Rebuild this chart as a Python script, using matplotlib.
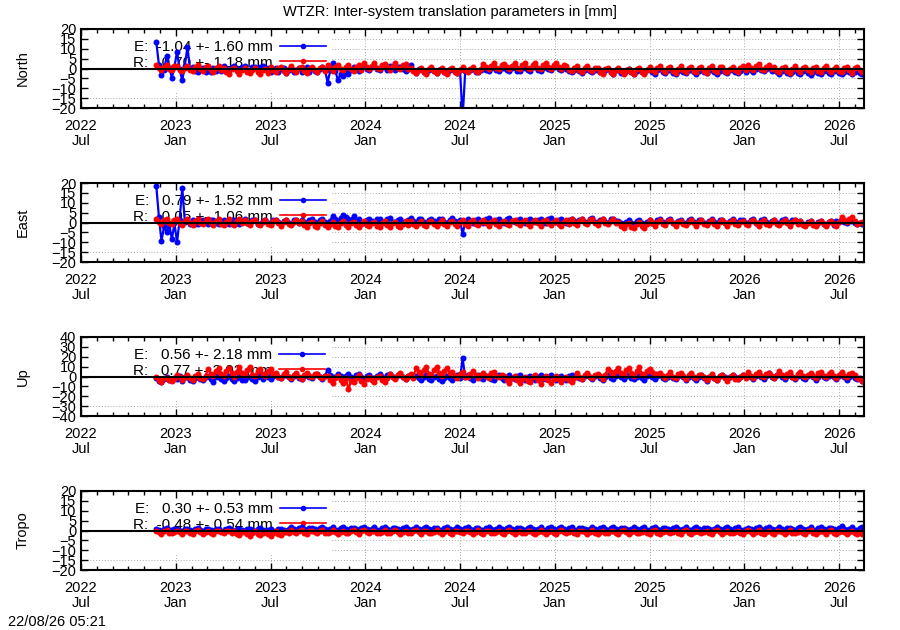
import numpy as np
import pandas as pd
import matplotlib
matplotlib.use("Agg")
import matplotlib.pyplot as plt
import matplotlib.dates as mdates
from matplotlib.patches import Rectangle

plt.rcParams['font.family'] = ['Liberation Sans', 'DejaVu Sans']
plt.rcParams['font.size'] = 10.5

# translation parameters in mm, one value read every 5 days from 2022-11-26
# (each row below = 50 days)
north_e = [13.5, 2.0, -3.5, -1.0, 6.5, 0.5, -4.6, 1.0, 8.6, -0.5,
           -6.0, 1.5, 11.0, -0.5, 0.8, -1.5, -2.0, 0.2, 0.5, -1.8,
           0.7, -1.9, 0.3, -1.2, 0.9, -1.5, 1.2, -0.5, -1.0, 0.8,
           1.4, -0.3, -0.8, 1.0, 1.3, -0.6, -1.1, 0.7, 1.0, -0.9,
           0.6, 1.2, -0.5, 0.4, -2.0, -0.6, 0.2, -1.8, -0.4, 0.5,
           -2.1, -0.8, 0.3, -1.9, -1.0, 0.4, -2.0, -0.5, 0.6, -1.7,
           0.4, -1.2, -2.0, -0.5, 0.6, -0.8, -7.2, -1.0, 2.6, -1.5,
           -5.8, -3.0, -4.0, -2.0, -3.0, -1.0, 0.8, -0.5, -1.2, 0.6,
           1.2, -0.4, -0.8, 1.0, 1.4, -0.2, -0.6, 1.1, 0.9, -0.9,
           1.3, 0.2, -0.7, 1.0, 1.0, -0.5, -1.5, 0.0, 1.8, -1.0,
           -2.2, -0.5, -0.2, -1.8, -2.4, -0.6, 0.1, -1.5, -2.3, -0.8,
           -0.1, -1.6, -2.5, -0.9, 0.0, -1.4, -2.2, -1.0, -25.0, -1.2,
           -1.5, -0.8, -0.5, -1.6, -2.0, -0.6, 0.5, -0.9, -1.2, 0.4,
           0.6, -1.0, -1.4, 0.2, 0.4, -0.8, -1.3, 0.1, 0.7, -1.2,
           -1.5, 0.3, 0.5, -1.0, -1.2, 0.6, 0.8, -0.7, -1.1, 0.4,
           1.0, -0.5, -0.9, 0.8, 1.2, -0.3, -0.8, 0.6, -0.3, -1.4,
           -2.0, -0.6, -0.2, -1.5, -2.2, -0.8, -0.4, -1.3, -1.9, -0.7,
           -0.6, -2.0, -2.5, -0.8, -0.5, -1.9, -2.6, -1.0, -0.7, -2.2,
           -2.4, -1.1, -0.4, -1.8, -2.7, -1.2, -0.6, -2.0, -2.5, -0.9,
           -0.5, -1.7, -2.6, -1.0, -0.4, -1.9, -2.5, -0.8, -0.7, -2.1,
           -2.8, -1.2, -0.5, -1.6, -2.4, -1.0, -0.6, -1.8, -2.7, -1.1,
           -0.4, -1.9, -2.5, -0.9, -0.6, -1.7, -2.6, -1.2, -0.5, -2.0,
           -2.4, -1.0, -0.7, -1.8, -2.5, -1.1, -0.5, -1.6, 0.3, -0.9,
           -1.6, -0.4, 0.5, -0.8, -1.5, -0.2, 0.2, -1.2, -0.8, -2.0,
           -2.8, -1.5, -0.7, -2.2, -3.0, -1.6, -0.9, -2.4, -2.9, -1.3,
           -0.6, -2.1, -3.1, -1.7, -0.8, -2.3, -2.7, -1.4, -0.7, -2.2,
           -2.9, -1.5, -0.9, -2.4, -2.8, -1.6, -0.6, -2.0, -3.0, -1.8,
           -0.8, -2.1, -2.6]
north_r = [1.8, 0.2, -0.8, 1.0, 2.0, -0.3, -0.6, 1.2, 1.4, -1.0,
           -1.5, 0.4, 1.2, -0.8, -1.3, 0.6, 1.6, -0.5, -1.2, 0.9,
           1.1, -0.7, -1.6, 0.5, 1.3, -0.9, 0.3, -1.8, -2.6, -0.4,
           0.2, -1.5, -2.8, -0.9, 0.1, -1.7, -2.5, -0.6, 0.4, -1.9,
           -2.9, -1.0, 0.0, -2.2, 1.0, -0.8, -2.0, 0.3, 0.9, -1.2,
           -2.1, -0.3, 1.1, -1.0, -1.9, 0.2, 0.8, -1.4, -2.2, -0.2,
           1.0, -0.6, -1.8, 0.4, 0.9, -1.1, 1.8, 0.2, -1.2, 0.9,
           1.7, -0.5, -1.0, 0.8, 1.9, -0.2, -1.3, 0.6, 1.6, -0.7,
           2.6, 0.8, -0.5, 1.5, 2.8, 0.3, -0.4, 1.9, 2.5, 0.6,
           -0.6, 1.2, 2.7, 0.5, -0.3, 1.8, 2.4, -0.2, 0.5, -1.4,
           -2.5, -0.6, 0.4, -1.7, -2.6, -0.3, 0.6, -1.5, -2.4, -0.8,
           0.3, -1.9, -2.7, -0.4, 0.5, -1.6, -2.3, -0.7, 1.0, -0.9,
           -2.0, -0.4, 0.9, -1.2, -1.9, 0.0, 2.4, 0.6, -0.4, 1.5,
           2.6, 0.3, -0.5, 1.8, 2.5, 0.7, -0.3, 1.4, 2.7, 0.2,
           -0.4, 1.6, 2.6, 0.4, -0.5, 1.9, 2.8, 0.5, -0.2, 1.7,
           2.9, 0.6, -0.3, 2.0, 3.0, 0.9, -0.1, 1.6, 1.5, -0.6,
           -1.5, 0.5, 1.4, -0.7, -1.6, 0.3, 1.3, -0.9, -1.4, 0.2,
           0.2, -1.6, -2.8, -0.5, 0.1, -1.9, -2.9, -0.8, 0.3, -1.5,
           -2.7, -0.7, 0.0, -1.8, -2.8, -0.4, 0.2, -1.6, -2.6, -0.9,
           1.0, -0.8, -2.0, 0.3, 1.1, -1.0, -1.9, 0.5, 0.9, -1.3,
           -2.1, -0.2, 1.2, -0.9, -1.8, 0.4, 1.0, -1.2, -2.0, 0.1,
           0.8, -1.1, -2.1, 0.2, 1.1, -0.7, -1.9, 0.6, 1.0, -1.4,
           -2.0, -0.3, 0.9, -1.0, -1.8, 0.2, 1.2, -0.6, 2.0, 0.4,
           -0.9, 1.1, 2.2, -0.2, -1.0, 0.8, 1.9, -0.4, 1.0, -1.1,
           -2.0, 0.1, 0.9, -1.3, -2.1, -0.2, 1.1, -0.9, -1.9, 0.3,
           1.0, -1.0, -2.0, 0.4, 0.8, -1.2, -1.8, 0.5, 1.2, -0.8,
           -2.0, -0.1, 1.0, -1.1, -1.9, 0.3, 0.9, -0.7, -2.1, 0.2,
           1.0, -0.9, -1.8]

east_e = [18.5, 3.0, -9.5, -2.0, -5.0, -1.0, -8.5, -0.5, -10.0, 1.5,
          17.5, 0.5, 1.0, -0.8, 1.3, -0.6, -0.8, 1.2, 1.5, 0.2,
          -0.6, 1.1, 1.2, -0.5, -0.9, 0.9, 1.4, 0.0, -0.7, 1.3,
          1.3, -0.4, -0.8, 1.0, 1.6, -0.2, -0.5, 1.2, 1.2, -0.6,
          -0.9, 0.8, 1.4, -0.3, -0.6, 1.1, 1.5, 0.1, -0.8, 0.9,
          1.3, -0.5, -0.7, 1.2, 1.4, -0.2, 1.5, 0.4, -0.5, 1.3,
          1.8, 0.2, -0.3, 1.4, 1.6, 0.1, -0.4, 1.0, 3.5, 2.0,
          1.0, 2.5, 4.0, 2.8, 2.0, 1.5, 3.2, 1.0, 1.8, 0.3,
          0.0, 1.5, 2.0, 0.6, 0.2, 1.7, 1.9, 0.4, -0.1, 1.6,
          2.1, 0.5, 0.3, 1.4, 1.8, 0.1, 0.0, 1.5, 2.2, 0.7,
          0.1, 1.6, 1.9, 0.3, -0.2, 1.3, 2.0, 0.6, 0.2, 1.7,
          1.8, 0.4, 0.0, 1.5, 2.1, 0.8, 0.1, 1.2, -6.0, 0.5,
          2.0, 0.9, 0.0, 1.4, 1.9, 0.3, -0.1, 1.6, 2.1, 0.5,
          0.2, 1.5, 1.8, 0.4, 0.0, 1.7, 2.2, 0.6, 0.1, 1.3,
          1.9, 0.2, -0.1, 1.4, 2.0, 0.7, 0.3, 1.5, 1.8, 0.0,
          0.0, 1.6, 2.1, 0.5, 0.1, 1.2, 1.9, 0.4, -0.2, 1.4,
          2.0, 0.6, 0.2, 1.5, 1.8, 0.3, 0.0, 1.7, 2.1, 0.5,
          0.1, 1.4, 1.9, 0.2, -0.1, 1.6, 2.0, 0.8, 1.0, -0.5,
          -1.0, 0.4, 1.2, -0.3, -0.9, 0.6, 1.1, -0.5, -1.1, 0.3,
          1.5, 0.0, -0.4, 1.1, 1.7, 0.2, -0.3, 1.3, 1.6, -0.1,
          -0.5, 1.0, 1.4, -0.2, -0.4, 1.2, 1.8, 0.3, -0.2, 1.1,
          1.5, -0.3, -0.5, 0.9, 1.6, 0.1, -0.3, 1.2, 1.4, -0.2,
          -0.4, 1.0, 1.7, 0.2, -0.2, 1.3, 1.5, -0.1, -0.5, 1.1,
          1.6, 0.0, -0.3, 1.2, 1.8, 0.3, -0.4, 1.0, 1.5, -0.2,
          -0.4, 1.1, 1.6, 0.1, -0.2, 1.2, 1.4, -0.3, 0.8, -0.6,
          -1.4, 0.2, 0.7, -0.8, -1.3, 0.4, 0.9, -0.6, -1.5, 0.1,
          0.6, -1.2, 0.9, 0.5, 1.2, 0.4, 0.0, 0.6, 0.8, -0.3,
          -1.0, -0.5, -0.8]
east_r = [1.8, 0.3, -0.9, 1.1, 2.0, -0.2, -0.7, 1.3, 1.8, -0.4,
          -1.2, 0.6, 1.6, -0.5, -1.3, 0.8, 1.9, 0.0, -1.0, 1.2,
          1.7, -0.3, -1.4, 0.9, 1.8, -0.6, -1.1, 0.5, 1.6, -0.8,
          -1.2, 0.7, 1.9, -0.2, 1.4, -0.5, -1.5, 0.6, 1.3, -0.9,
          -1.4, 0.4, 1.5, -0.6, -1.3, 0.8, 1.2, -0.4, -1.6, 0.3,
          1.4, -0.7, -1.5, 0.5, 1.3, -0.3, 0.6, -1.4, -2.2, -0.1,
          0.5, -1.6, -2.3, -0.4, 0.7, -1.2, -2.1, -0.6, 0.4, -1.8,
          -2.4, -0.5, 0.6, -1.5, -2.2, -0.2, 0.5, -1.4, -2.3, -0.7,
          0.7, -1.1, -2.0, -0.3, 0.4, -1.7, -2.2, -0.5, 0.6, -1.3,
          -2.1, -0.4, 0.5, -1.6, -2.3, -0.6, 0.6, -1.2, 0.9, -1.0,
          -1.9, -0.2, 1.0, -1.1, -1.8, 0.1, 0.8, -0.9, -2.0, -0.3,
          1.1, -0.8, -1.9, 0.2, 0.9, -1.0, -1.8, 0.4, 1.2, -0.6,
          -1.6, 0.3, 1.1, -0.9, -1.5, 0.5, 1.3, -0.4, -1.7, 0.1,
          1.2, -0.6, -1.6, 0.4, 1.0, -0.8, -1.5, 0.6, 1.3, -0.3,
          -1.4, 0.2, 1.2, -0.7, -1.7, 0.4, 1.1, -0.5, -1.6, 0.6,
          1.3, -0.4, -1.5, 0.3, 1.2, -0.9, -1.6, 0.5, 1.1, -0.6,
          1.7, -0.2, -1.1, 0.9, 1.8, -0.4, -1.0, 1.2, 1.6, 0.0,
          -1.2, 0.8, 1.9, -0.1, -1.0, 1.0, 1.7, -0.3, 0.1, -2.0,
          -2.8, -0.6, 0.0, -2.1, -2.9, -0.9, 0.2, -1.8, -2.7, -0.8,
          1.2, -0.5, -1.6, 0.4, 1.1, -0.7, -1.5, 0.6, 1.3, -0.4,
          -1.7, 0.2, 1.0, -0.8, -1.5, 0.5, 1.2, -0.3, -1.6, 0.3,
          1.3, -0.6, -1.4, 0.2, 1.1, -0.9, -1.7, 0.5, 1.2, -0.5,
          -1.6, 0.4, 1.3, -0.6, -1.5, 0.1, 1.0, -0.8, -1.4, 0.6,
          1.2, -0.3, -1.6, 0.5, 1.1, -0.7, -1.5, 0.2, 1.3, -0.6,
          -1.4, 0.3, 1.2, -0.5, -1.6, 0.4, 1.1, -0.9, 0.9, -1.2,
          -1.9, 0.0, 0.8, -1.1, -2.0, -0.3, 1.0, -0.8, -1.8, 0.2,
          0.9, -1.0, -2.0, 0.5, 3.0, 1.5, 0.2, 1.8, 2.8, 1.0,
          -0.8, -0.2, 0.5]

up_e = [-2.0, -4.5, -6.0, -2.5, -1.0, -3.5, -4.0, -1.5, -2.5, 0.5,
        -4.5, -1.0, 0.0, -3.5, -5.0, -1.5, 1.0, -2.5, -4.0, -0.5,
        0.5, -3.0, -5.5, -1.0, 0.0, -2.5, -4.5, -1.5, 1.0, -3.0,
        -5.0, -2.0, 0.5, -3.5, -4.0, -1.0, 0.0, -2.5, -4.5, -0.5,
        0.5, -3.0, 2.5, -0.5, -2.5, 1.0, 3.0, -1.0, -2.0, 1.5,
        2.0, -0.5, -3.0, 0.5, 2.5, -1.5, -2.5, 1.0, 3.0, -1.0,
        -2.0, 1.5, 2.5, -0.5, -2.5, 1.0, 6.5, 2.0, 0.0, -1.0,
        2.5, 0.5, -1.5, 1.0, 2.5, -0.5, -2.0, 1.5, 3.0, -1.0,
        -2.5, 0.5, 2.0, -1.5, -2.0, 1.0, 2.5, -0.5, -3.0, 1.5,
        3.0, -0.5, -2.0, 1.5, 2.5, -1.0, -2.5, 0.5, 2.0, -1.0,
        1.0, -2.0, -4.0, -0.5, 1.5, -2.5, -3.5, -1.0, 0.5, -3.0,
        -4.5, -1.5, 1.0, -2.0, -4.0, -0.5, 1.5, -2.0, 18.5, -1.0,
        1.5, -1.5, -3.5, 0.0, 2.0, -2.0, -3.0, 0.5, 1.0, -2.5,
        -4.0, -1.0, 1.5, -2.0, -3.5, 0.0, 2.0, -1.5, -3.0, 0.5,
        1.5, -2.0, -4.0, -0.5, 1.0, -1.5, -3.5, 0.0, 2.0, -2.5,
        -3.0, -0.5, 1.5, -2.0, -3.5, -1.0, 1.0, -1.5, -4.0, 0.5,
        1.5, -1.0, 2.0, -1.5, -3.0, 0.5, 2.5, -1.0, -2.5, 1.0,
        1.5, -2.0, -3.5, 0.0, 2.0, -1.5, -3.0, 0.5, 2.5, -1.0,
        -2.5, 0.5, 1.5, -2.0, -3.0, 0.0, 2.0, -1.5, -3.5, 1.0,
        2.5, -1.0, -2.5, 0.5, 1.5, -2.0, -3.0, 0.0, 2.0, -1.5,
        -3.0, 0.5, 2.5, -1.0, -4.0, -0.5, 1.5, -2.0, -3.5, 0.0,
        2.0, -1.5, -4.5, -0.5, 1.0, -2.0, -3.5, 0.5, 1.5, -1.0,
        -3.0, -0.5, 2.0, -1.0, -2.5, 0.0, 1.5, -1.0, 3.0, 0.0,
        -2.5, 0.5, 2.5, -1.0, -3.0, 1.0, 3.5, -0.5, -2.0, 1.5,
        2.5, -0.5, -2.5, 1.0, 3.0, -1.0, -3.0, 0.5, 2.0, -1.5,
        -2.5, 0.5, 3.0, -1.0, -3.5, 0.0, 2.5, -0.5, -2.0, 1.0,
        3.0, -0.5, -3.0, 0.5, 2.5, -1.0, -4.0, 0.0, 2.0, -1.5,
        -3.0, -2.0, -5.0]
up_r = [-1.0, -3.5, -6.0, -2.0, -1.5, -4.0, -5.0, -2.5, 2.0, -1.0,
        -4.0, -0.5, 1.5, -2.0, -3.5, 0.5, 2.5, -1.5, -3.0, 1.0,
        8.0, 3.0, 0.5, 5.5, 9.0, 2.5, 1.0, 6.0, 8.5, 3.5,
        0.0, 5.0, 10.0, 4.0, 1.5, 6.5, 9.5, 2.0, 0.5, 5.5,
        8.0, 3.0, 1.0, 6.0, 7.5, 2.5, 4.0, -0.5, -2.0, 2.5,
        4.5, 0.0, -1.5, 2.0, 3.5, -1.0, -2.5, 1.5, 4.0, 0.5,
        -1.0, 2.5, 3.0, -0.5, -2.0, 1.0, 1.0, -3.5, -7.0, -2.0,
        0.5, -4.0, -6.5, -2.0, -12.5, -5.0, -6.0, -1.5, 1.5, -4.5,
        -7.5, -2.5, 0.0, -4.0, -6.0, -1.0, 1.0, -3.5, -5.5, -2.0,
        3.0, -0.5, -3.0, 1.5, 3.5, -1.0, -2.5, 0.5, 3.0, -1.5,
        9.0, 4.5, 1.5, 7.0, 9.5, 3.0, 2.0, 6.5, 10.0, 4.0,
        1.0, 6.0, 9.0, 3.5, 5.0, 1.0, -1.5, 2.5, 4.5, 0.0,
        -1.0, 3.0, 5.5, 1.5, -2.0, 2.0, 4.0, 0.5, -1.5, 3.5,
        5.0, 1.0, -1.0, 2.0, 0.5, -3.5, -6.5, -1.5, 1.0, -4.0,
        -7.0, -2.5, 0.0, -4.5, -6.0, -1.0, 1.5, -3.5, -7.5, -2.0,
        0.5, -4.0, -6.5, -2.5, 1.0, -3.0, -6.0, -1.5, 0.0, -3.5,
        -5.5, -2.0, 3.5, 0.0, -2.5, 1.5, 4.0, -0.5, -2.0, 2.0,
        3.0, 0.5, -2.5, 2.0, 8.0, 4.5, 1.5, 6.0, 9.0, 3.5,
        2.0, 6.5, 8.5, 4.0, 1.0, 5.5, 9.5, 3.0, 1.5, 6.0,
        8.0, 4.5, 2.5, 3.0, 4.0, 0.5, -2.0, 1.5, 4.5, 0.0,
        -1.5, 2.5, 3.5, 0.5, -2.5, 1.5, 4.0, 0.0, -1.5, 2.0,
        2.0, -1.0, -4.0, 0.0, 2.5, -2.0, -3.5, 0.5, 1.5, -1.5,
        -4.5, -1.0, 2.0, -2.5, -3.0, 0.0, 1.5, -2.0, 4.5, 1.0,
        -1.5, 2.5, 5.0, 1.0, -1.0, 3.0, 4.0, 0.5, -1.5, 2.0,
        5.5, 1.5, -1.0, 3.0, 4.5, 0.0, -2.0, 2.5, 5.0, 1.0,
        -1.0, 2.0, 4.0, 0.5, -1.5, 3.5, 5.0, 1.0, -0.5, 2.5,
        4.5, 1.0, -1.5, 2.0, 5.0, 0.5, -1.0, 3.0, 4.0, 1.5,
        -1.5, -3.0, -4.5]

tropo_e = [1.0, 0.4, -0.2, 0.7, 1.1, 0.2, -0.1, 0.8, 0.9, 0.0,
           -0.3, 0.6, 1.0, 0.3, -0.2, 0.9, 1.2, 0.1, -0.1, 0.7,
           0.9, 0.2, -0.2, 0.8, 1.0, 0.0, -0.3, 0.6, 1.1, 0.3,
           -0.2, 0.7, 0.9, 0.1, -0.1, 0.8, 1.0, 0.2, -0.2, 0.6,
           1.1, 0.3, -0.3, 0.5, 0.9, 0.0, -0.1, 0.7, 1.0, 0.2,
           -0.2, 0.6, 1.6, 0.6, 0.3, 1.2, 1.7, 0.8, 0.2, 1.1,
           1.5, 0.7, 0.4, 1.3, 1.8, 0.9, 0.2, 1.0, 1.6, 0.5,
           0.3, 1.2, 1.7, 0.6, 0.1, 1.1, 1.5, 0.8, 0.3, 1.4,
           1.9, 0.7, 0.2, 1.0, 1.6, 0.5, 0.4, 1.3, 1.7, 0.6,
           0.2, 1.1, 1.5, 0.9, 0.3, 1.2, 1.8, 0.7, 0.1, 1.0,
           1.6, 0.6, 0.3, 1.4, 1.7, 0.8, 0.2, 1.1, 1.5, 0.5,
           0.4, 1.3, 1.9, 0.7, 0.2, 1.0, 1.6, 0.6, 0.3, 1.2,
           1.7, 0.8, 0.1, 1.1, 1.5, 0.5, 0.3, 1.4, 1.8, 0.9,
           0.2, 1.0, 1.6, 0.6, 0.4, 1.3, 1.7, 0.7, 0.1, 1.1,
           1.5, 0.9, 0.3, 1.2, 1.8, 0.6, 0.2, 1.0, 1.6, 0.5,
           0.3, 1.4, 1.7, 0.8, 0.1, 1.1, 1.9, 0.7, 0.2, 1.2,
           1.6, 0.5, 0.4, 1.3, 1.5, 0.8, 0.2, 1.0, 1.7, 0.6,
           0.3, 1.2, 1.8, 0.7, 0.1, 1.1, 1.6, 0.9, 0.4, 1.3,
           1.5, 0.6, 0.2, 1.0, 1.7, 0.8, 0.3, 1.4, 1.6, 0.5,
           0.1, 1.1, 1.9, 0.7, 0.2, 1.2, 1.5, 0.6, 0.4, 1.3,
           1.8, 0.9, 0.3, 1.0, 1.6, 0.5, 0.2, 1.1, 1.7, 0.7,
           0.3, 1.3, 1.5, 0.8, 0.1, 1.0, 1.8, 0.6, 0.2, 1.2,
           1.6, 0.7, 0.4, 1.4, 1.7, 0.5, 0.3, 1.0, 1.5, 0.8,
           0.2, 1.1, 1.8, 0.6, 0.3, 1.3, 1.6, 0.7, 0.1, 1.0,
           1.7, 0.8, 0.2, 1.2, 1.5, 0.6, 0.4, 1.1, 1.9, 0.7,
           0.3, 1.0, 1.6, 0.5, 0.2, 1.4, 1.7, 0.8, 0.3, 1.1,
           1.5, 0.6, 0.1, 1.3, 2.1, 0.9, 0.2, 1.0, 1.7, 0.5,
           0.3, 1.2, 1.6]
tropo_r = [0.0, -0.9, -1.6, -0.4, 0.1, -1.2, -1.5, -0.6, -0.1, -1.0,
           -1.7, -0.5, 0.0, -1.1, -1.6, -0.3, 0.1, -0.9, -1.8, -0.7,
           -0.1, -1.3, -1.6, -0.5, 0.0, -1.0, -1.5, -0.4, -0.1, -1.2,
           -0.5, -1.8, -2.3, -1.0, -0.6, -1.6, -2.6, -1.2, -0.4, -1.9,
           -2.5, -1.1, -0.7, -2.0, -2.9, -1.4, -0.5, -1.7, -2.4, -1.0,
           -0.6, -1.5, 0.1, -0.8, -1.5, -0.4, 0.2, -1.1, -1.6, -0.3,
           0.0, -1.0, -1.4, -0.5, 0.1, -1.2, -1.5, -0.6, 0.2, -0.9,
           -1.7, -0.7, 0.0, -1.1, -1.5, -0.2, 0.1, -1.0, -1.6, -0.5,
           0.2, -0.8, -1.4, -0.3, 0.0, -1.3, -1.5, -0.7, 0.1, -1.1,
           -1.5, -0.4, 0.2, -1.0, -1.6, -0.6, 0.0, -1.2, -1.4, -0.5,
           0.1, -0.9, -1.6, -0.4, 0.0, -1.1, -1.5, -0.7, 0.1, -1.0,
           -1.6, -0.6, 0.1, -1.3, -1.7, -0.5, 0.0, -1.0, -1.5, -0.3,
           0.0, -1.0, -1.6, -0.6, 0.1, -1.3, -1.7, -0.5, -0.1, -1.1,
           -1.5, -0.7, 0.0, -1.2, -1.8, -0.4, 0.1, -0.9, -1.6, -0.6,
           0.0, -1.1, -1.5, -0.5, -0.1, -1.4, -1.7, -0.6, 0.1, -1.0,
           -1.9, -0.8, 0.0, -1.2, -1.6, -0.4, 0.1, -1.0, -1.5, -0.7,
           0.0, -1.2, -1.7, -0.5, -0.1, -1.0, -1.6, -0.6, 0.1, -1.3,
           -1.8, -0.7, 0.0, -1.1, -1.5, -0.5, 0.0, -1.2, -1.6, -0.4,
           0.1, -1.0, -1.7, -0.6, -0.1, -1.3, -1.5, -0.8, 0.0, -1.1,
           -1.6, -0.5, 0.1, -1.2, -1.8, -0.6, 0.0, -0.9, -1.5, -0.7,
           0.0, -1.1, -1.6, -0.5, 0.1, -1.2, -1.7, -0.6, -0.1, -1.0,
           -1.5, -0.8, 0.0, -1.3, -1.6, -0.4, 0.1, -1.0, -1.8, -0.6,
           0.0, -1.2, -1.5, -0.7, -0.1, -1.1, -1.7, -0.5, 0.1, -1.0,
           -1.6, -0.6, 0.1, -1.2, -1.9, -0.7, 0.0, -1.1, -1.7, -0.5,
           0.0, -1.0, -1.6, -0.6, 0.1, -1.3, -1.5, -0.8, 0.0, -1.2,
           -1.7, -0.5, 0.1, -1.1, -1.8, -0.7, 0.0, -1.0, -1.6, -0.4,
           0.1, -1.2, -1.7, -0.6, -0.1, -1.0, -1.8, -0.7, 0.0, -1.3,
           -1.6, -0.8, -1.8]

components = ["North", "East", "Up", "Tropo"]
series_e = [north_e, east_e, up_e, tropo_e]
series_r = [north_r, east_r, up_r, tropo_r]
mean_e = [-1.04, 0.79, 0.56, 0.30]
sdev_e = [1.60, 1.52, 2.18, 0.53]
mean_r = [-0.70, -0.05, 0.77, -0.48]
sdev_r = [1.18, 1.06, 3.02, 0.54]
y_limits = [20, 20, 40, 20]
y_steps = [5, 5, 10, 5]

x_start = mdates.date2num(pd.Timestamp("2022-07-04"))
x_end = mdates.date2num(pd.Timestamp("2026-08-20"))
x_major = x_start + np.arange(9) * 182.5
x_minor = x_start + np.arange(50) * 182.5 / 6
x_minor = x_minor[x_minor <= x_end]

fig = plt.figure(figsize=(9, 6.3), dpi=100)
tops = [29, 183, 337, 491]

for k in range(4):
    ax = fig.add_axes([81 / 900, 1 - (tops[k] + 79) / 630, 783 / 900, 79 / 630])
    lim = y_limits[k]
    yt = np.arange(-lim, lim + 1, y_steps[k])

    # grid sits behind the opaque key box
    for yv in yt[1:-1]:
        ax.axhline(yv, color='#a8a8a8', lw=0.7, ls=(0, (1, 2)), zorder=0.5)
    for xv in x_major[1:]:
        ax.axvline(xv, color='#a8a8a8', lw=0.7, ls=(0, (1, 2)), zorder=0.5)
    ax.add_patch(Rectangle((0, 0.19), 0.319, 0.81, transform=ax.transAxes,
                           facecolor='white', edgecolor='none', zorder=1))

    e = series_e[k]
    r = series_r[k]
    ax.plot(pd.date_range("2022-11-26", periods=len(e), freq="5D"), e,
            color='blue', lw=1.6, marker='o', ms=3.3, zorder=2,
            label=f"E: {mean_e[k]:6.2f} +- {sdev_e[k]:.2f} mm")
    ax.plot(pd.date_range("2022-11-26", periods=len(r), freq="5D"), r,
            color='red', lw=1.6, marker='o', ms=3.3, zorder=2.1,
            label=f"R: {mean_r[k]:6.2f} +- {sdev_r[k]:.2f} mm")
    ax.axhline(0, color='black', lw=1.5, zorder=3)

    ax.set_xlim(x_start, x_end)
    ax.set_ylim(-lim, lim)
    ax.set_yticks(yt)
    ax.set_xticks(x_major)
    ax.set_xticks(x_minor, minor=True)
    ax.xaxis.set_major_formatter(mdates.DateFormatter("%Y\n%b"))
    ax.tick_params(which='both', direction='in', top=True, right=True, width=1)
    ax.tick_params(which='major', length=5)
    ax.tick_params(which='minor', length=3)
    ax.tick_params(axis='x', pad=8)
    for lab in ax.get_xticklabels():
        lab.set_linespacing(1.05)
    for sp in ax.spines.values():
        sp.set_linewidth(1.5)
    ax.set_ylabel(components[k])
    ax.yaxis.set_label_coords(-0.065, 0.5)

    leg = ax.legend(loc='upper left', bbox_to_anchor=(0.067, 0.86), frameon=False,
                    markerfirst=False, handlelength=3.0, handletextpad=0.45,
                    labelspacing=0.1, borderpad=0, borderaxespad=0, numpoints=1,
                    fontsize=11)
    for line in leg.get_lines():
        line.set_linewidth(1.2)
        line.set_markersize(3)
    leg.set_zorder(1.5)

fig.text(0.5, 1 - 12 / 630, "WTZR: Inter-system translation parameters in [mm]",
         ha='center', va='center', fontsize=10.5)
fig.text(8 / 900, 1 - 622 / 630, "22/08/26 05:21", ha='left', va='center', fontsize=10.5)

fig.savefig("out.png", dpi=100)
